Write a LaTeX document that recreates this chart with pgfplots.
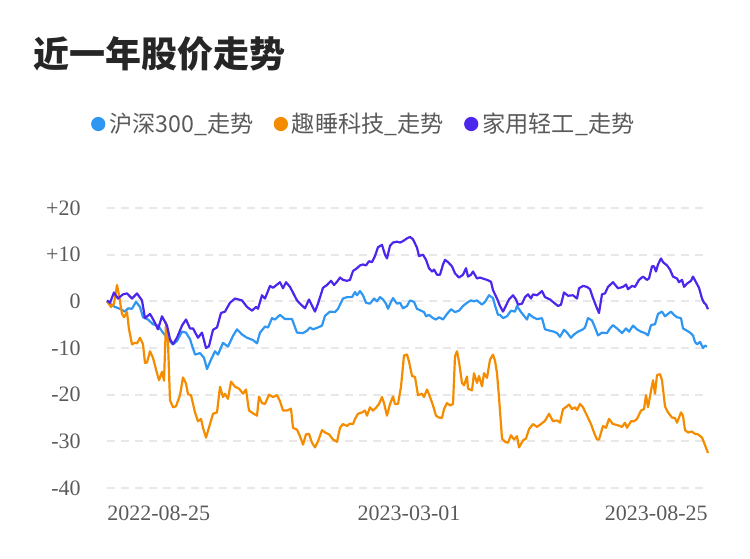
\documentclass[border=0pt]{standalone}
\usepackage{pgfplots}
\pgfplotsset{compat=1.18}
\usepackage{fontspec}
\setmainfont{Liberation Serif}
\newfontfamily\cjk{Noto Sans CJK SC}
\definecolor{hsblue}{RGB}{47,150,242}
\definecolor{qsorange}{RGB}{245,140,0}
\definecolor{jypurple}{RGB}{76,38,236}
\definecolor{gridgray}{RGB}{232,232,232}
\definecolor{ticktext}{RGB}{90,90,90}
\begin{document}
\begin{tikzpicture}
\path[use as bounding box] (0,0) rectangle (375pt,279pt);
\node[anchor=base west, inner sep=0pt, text=black!85] at (16.5pt,245pt)
  {\cjk\bfseries\fontsize{18}{18}\selectfont 近一年股价走势};
\begin{axis}[
  at={(53.5pt,35pt)}, anchor=south west,
  scale only axis, width=300.5pt, height=140pt,
  xmin=107, xmax=708, ymin=-40, ymax=20,
  axis line style={draw=none},
  major tick length=0pt,
  xtick={107,408,708}, xticklabels={},
  ytick={-40,-30,-20,-10,0,10,20},
  yticklabels={-40,-30,-20,-10,0,+10,+20},
  yticklabel style={anchor=east, inner sep=0pt, xshift=-13pt,
    font=\fontsize{11}{11}\selectfont, text=ticktext},
  ymajorgrids=true,
  grid style={gridgray, line width=0.9pt, dash pattern=on 4pt off 3pt},
  clip=false,
  legend columns=3,
  legend style={at={(0.429,1.30)}, anchor=center, draw=none, fill=none,
    font=\cjk\fontsize{11.6}{11.6}\selectfont, text=ticktext,
    /tikz/every odd column/.append style={column sep=0pt},
    /tikz/every even column/.append style={column sep=8pt}},
  legend image code/.code={\fill[#1] (0pt,0pt) circle (3pt);},
  every axis plot/.append style={line width=1.1pt, line join=round},
]
\addplot[hsblue, mark=none] coordinates {
(107,0) (110,-0.5) (115,-1.2) (120,-1.6) (125,-2.2) (128,-1.5) (132,-1.6)
(136,-0.1) (140,-1.2) (143,-3.4) (148,-3.9) (153,-4.9) (158,-5.2) (163,-6.7)
(168,-8.1) (173,-9.2) (177,-8.5) (182,-6.5) (186,-6.7) (190,-8.1) (195,-11.4)
(200,-11.1) (204,-12.1) (207,-14.5) (211,-12.5) (215,-10.7) (218,-11.4)
(223,-8.9) (228,-9.7) (233,-7.4) (237,-6.0) (242,-7.1) (247,-7.8) (253,-8.3)
(257,-9.0) (260,-6.7) (265,-5.4) (268,-5.6) (272,-3.6) (275,-3.9) (280,-2.9)
(285,-3.8) (292,-3.8) (297,-6.7) (303,-6.8) (307,-6.3) (310,-5.6) (313,-6.0)
(318,-5.6) (322,-5.2) (325,-3.1) (330,-2.2) (335,-2.3) (338,-1.6) (343,0.6)
(347,0.9) (352,0.9) (355,2.0) (357,1.3) (360,2.2) (363,1.3) (366,-0.3)
(370,-0.5) (374,0.6) (377,0) (380,0.9) (383,0.4) (386,-0.5) (388,-1.6)
(391,-0.1) (393,0.7) (397,-0.5) (400,-0.3) (403,-1.5) (407,-1.0) (410,0.2)
(414,-0.1) (417,-1.6) (421,-2.0) (424,-2.3) (426,-3.2) (429,-2.9) (433,-3.6)
(436,-3.9) (439,-3.4) (443,-3.9) (447,-2.7) (451,-1.7) (455,-2.3) (459,-2.0)
(463,-1.0) (467,-0.3) (471,0.2) (474,0) (477,0.2) (482,-0.7) (485,-0.1)
(489,1.3) (493,0.7) (495,-0.9) (498,-2.9) (500,-2.9) (503,-3.6) (507,-3.2)
(511,-2.0) (515,-2.2) (517,-1.0) (521,-2.3) (524,-3.1) (527,-3.9) (529,-2.7)
(533,-3.4) (537,-3.8) (542,-3.6) (545,-6.0) (550,-6.3) (554,-6.5) (557,-6.8)
(560,-7.6) (564,-6.1) (567,-6.7) (571,-7.8) (574,-7.1) (578,-6.5) (583,-6.0)
(585,-5.6) (588,-3.6) (592,-4.1) (595,-5.6) (598,-7.3) (602,-6.7) (607,-6.8)
(610,-5.8) (613,-5.1) (617,-5.8) (622,-6.8) (626,-5.8) (629,-6.5) (633,-5.2)
(637,-6.0) (641,-6.5) (645,-6.8) (648,-7.3) (651,-5.1) (655,-4.9) (658,-2.7)
(662,-2.2) (665,-3.2) (668,-2.7) (671,-2.2) (674,-2.9) (677,-3.4) (681,-3.6)
(683,-5.8) (687,-6.3) (690,-6.7) (693,-7.3) (695,-8.7) (697,-9.2) (700,-8.7)
(703,-10.0) (705,-9.5) (707,-9.7)
};
\addlegendentry{沪深300\_走势}
\addplot[qsorange, mark=none] coordinates {
(107,0) (111,-1.2) (114,-0.5) (117,3.5) (119,1.3) (122,-2.7) (124,-3.4)
(127,-2.3) (129,-6.0) (132,-9.2) (135,-8.9) (137,-9.0) (140,-7.8) (143,-9.2)
(145,-13.2) (147,-13.1) (150,-10.7) (153,-12.1) (157,-15.4) (159,-16.9)
(162,-15.1) (164,-17.0) (166,-4.5) (168,-8.9) (170,-21.2) (173,-22.7)
(176,-22.5) (180,-20.1) (183,-16.3) (186,-17.6) (188,-19.9) (191,-20.1)
(195,-23.8) (198,-25.7) (201,-25.2) (203,-27.1) (206,-29.2) (210,-26.3)
(213,-24.1) (217,-23.8) (220,-18.3) (223,-20.5) (225,-19.8) (228,-20.9)
(231,-17.2) (235,-18.3) (239,-18.7) (243,-19.8) (246,-18.9) (249,-23.4)
(253,-24.0) (257,-24.5) (259,-20.4) (262,-21.8) (265,-22.0) (269,-20.0)
(273,-20.5) (277,-20.1) (280,-21.4) (283,-23.4) (287,-23.4) (291,-23.0)
(293,-27.1) (297,-27.5) (300,-28.9) (303,-30.7) (306,-28.5) (309,-28.4)
(312,-30.3) (315,-31.3) (318,-30.0) (322,-27.6) (325,-28.1) (329,-28.5)
(333,-29.6) (337,-30.1) (340,-27.1) (343,-26.3) (347,-26.7) (350,-26.2)
(353,-26.3) (355,-25.2) (358,-24.1) (362,-23.8) (365,-23.4) (367,-24.5)
(370,-22.7) (373,-23.4) (376,-22.8) (379,-22.0) (382,-20.5) (384,-21.8)
(387,-24.5) (390,-22.0) (393,-20.4) (395,-22.0) (398,-22.0) (401,-18.3)
(404,-11.6) (407,-11.4) (409,-12.9) (412,-16.0) (415,-16.2) (418,-20.1)
(422,-19.8) (424,-20.5) (427,-18.9) (429,-19.9) (433,-22.3) (436,-24.5)
(439,-24.9) (442,-25.0) (444,-23.1) (447,-21.8) (450,-22.3) (453,-22.0)
(455,-11.8) (457,-10.7) (459,-12.9) (462,-17.5) (464,-18.0) (467,-16.1)
(468,-18.7) (472,-19.1) (474,-15.4) (477,-17.5) (479,-16.0) (482,-18.2)
(484,-15.4) (487,-16.4) (490,-12.5) (493,-11.4) (495,-12.7) (497,-15.4)
(499,-20.5) (502,-29.4) (505,-30.1) (508,-30.3) (511,-28.7) (514,-29.6)
(517,-28.9) (519,-31.3) (523,-29.8) (526,-29.4) (529,-27.4) (533,-26.3)
(537,-26.9) (541,-26.3) (545,-25.6) (549,-24.1) (553,-25.7) (557,-25.5)
(560,-26.0) (563,-23.1) (567,-22.5) (569,-22.1) (572,-23.1) (575,-22.7)
(577,-23.3) (580,-22.0) (583,-22.7) (587,-24.5) (591,-26.3) (594,-28.1)
(597,-29.6) (599,-29.6) (603,-26.7) (606,-27.1) (609,-25.2) (613,-26.3)
(617,-26.5) (622,-26.9) (625,-26.0) (627,-27.1) (631,-25.7) (634,-25.7)
(637,-25.2) (641,-23.4) (644,-23.1) (646,-20.1) (648,-22.7) (651,-19.2)
(653,-16.9) (655,-19.8) (657,-15.8) (660,-15.6) (662,-16.9) (665,-22.5)
(668,-23.8) (672,-24.9) (675,-25.0) (677,-26.0) (681,-23.8) (683,-24.5)
(685,-27.6) (688,-28.1) (692,-27.9) (695,-28.4) (698,-28.5) (702,-29.2)
(705,-30.8) (708,-32.5)
};
\addlegendentry{趣睡科技\_走势}
\addplot[jypurple, mark=none] coordinates {
(107,0.2) (110,-0.3) (114,1.9) (118,0.6) (123,1.5) (127,1.7) (132,0.6)
(137,1.7) (142,0.2) (145,-3.6) (150,-2.7) (153,-3.8) (158,-6.0) (162,-3.2)
(167,-5.2) (170,-8.1) (173,-9.2) (177,-7.8) (182,-5.2) (186,-3.9) (190,-5.8)
(193,-5.8) (198,-7.8) (202,-6.7) (206,-10.0) (209,-9.6) (213,-6.1) (217,-5.6)
(221,-2.5) (225,-2.2) (230,-0.3) (235,0.6) (242,0.2) (247,-1.2) (252,-2.0)
(256,-1.2) (258,-1.6) (262,1.3) (265,0.6) (270,3.3) (273,2.9) (280,4.1)
(283,2.8) (286,4.1) (290,3.1) (297,0.2) (300,-0.5) (305,-1.5) (309,0.4)
(315,-2.2) (318,-0.5) (323,2.9) (327,3.5) (331,4.4) (334,3.5) (337,4.2)
(340,5.1) (343,4.6) (347,4.4) (350,4.6) (353,6.5) (357,7.1) (360,7.7)
(363,7.9) (366,7.7) (369,8.6) (372,8.4) (375,9.7) (378,11.6) (382,12.1)
(385,10.0) (387,9.2) (390,11.9) (393,12.6) (397,12.8) (400,12.6) (403,12.9)
(407,13.5) (410,13.8) (413,13.3) (417,11.5) (419,9.7) (423,10.0) (426,8.9)
(429,7.1) (432,6.4) (434,6.8) (437,5.7) (440,5.7) (443,7.9) (445,8.9)
(448,8.4) (452,7.5) (455,6.0) (459,5.1) (463,5.7) (466,7.1) (468,5.3)
(471,5.7) (473,6.4) (477,4.9) (480,5.1) (484,4.8) (487,4.6) (491,4.2)
(493,2.4) (497,0.6) (500,-1.0) (503,-2.2) (506,-0.9) (509,0.4) (513,1.3)
(516,0.4) (518,-0.7) (522,-0.5) (525,0.9) (528,1.5) (531,0.6) (533,1.5)
(537,1.3) (542,2.2) (545,0.9) (550,0.4) (554,-0.3) (558,-1.0) (561,-0.7)
(564,1.9) (568,1.2) (573,1.3) (577,0.6) (579,2.8) (583,3.3) (587,3.1)
(590,2.6) (593,0.7) (597,-1.5) (599,-2.5) (602,1.5) (605,1.7) (608,3.1)
(613,4.1) (618,2.8) (623,3.1) (626,3.6) (628,2.6) (632,3.3) (635,3.1)
(639,4.6) (643,5.3) (647,4.6) (649,4.9) (652,7.5) (654,7.5) (656,6.4)
(658,7.9) (661,9.2) (663,8.4) (667,7.7) (670,6.8) (673,5.3) (677,4.9)
(679,4.1) (682,4.6) (684,3.1) (687,3.8) (691,4.4) (693,5.3) (696,4.1)
(699,2.9) (702,0.6) (704,-0.3) (706,-0.7) (708,-1.7)
};
\addlegendentry{家用轻工\_走势}
\node[anchor=base west, inner sep=0pt, text=ticktext, font=\fontsize{11}{11}\selectfont]
  at (axis cs:107,-40) [yshift=-16pt] {2022-08-25};
\node[anchor=base, inner sep=0pt, text=ticktext, font=\fontsize{11}{11}\selectfont]
  at (axis cs:409,-40) [yshift=-16pt] {2023-03-01};
\node[anchor=base east, inner sep=0pt, text=ticktext, font=\fontsize{11}{11}\selectfont]
  at (axis cs:708,-40) [yshift=-16pt] {2023-08-25};
\end{axis}
\end{tikzpicture}
\end{document}
